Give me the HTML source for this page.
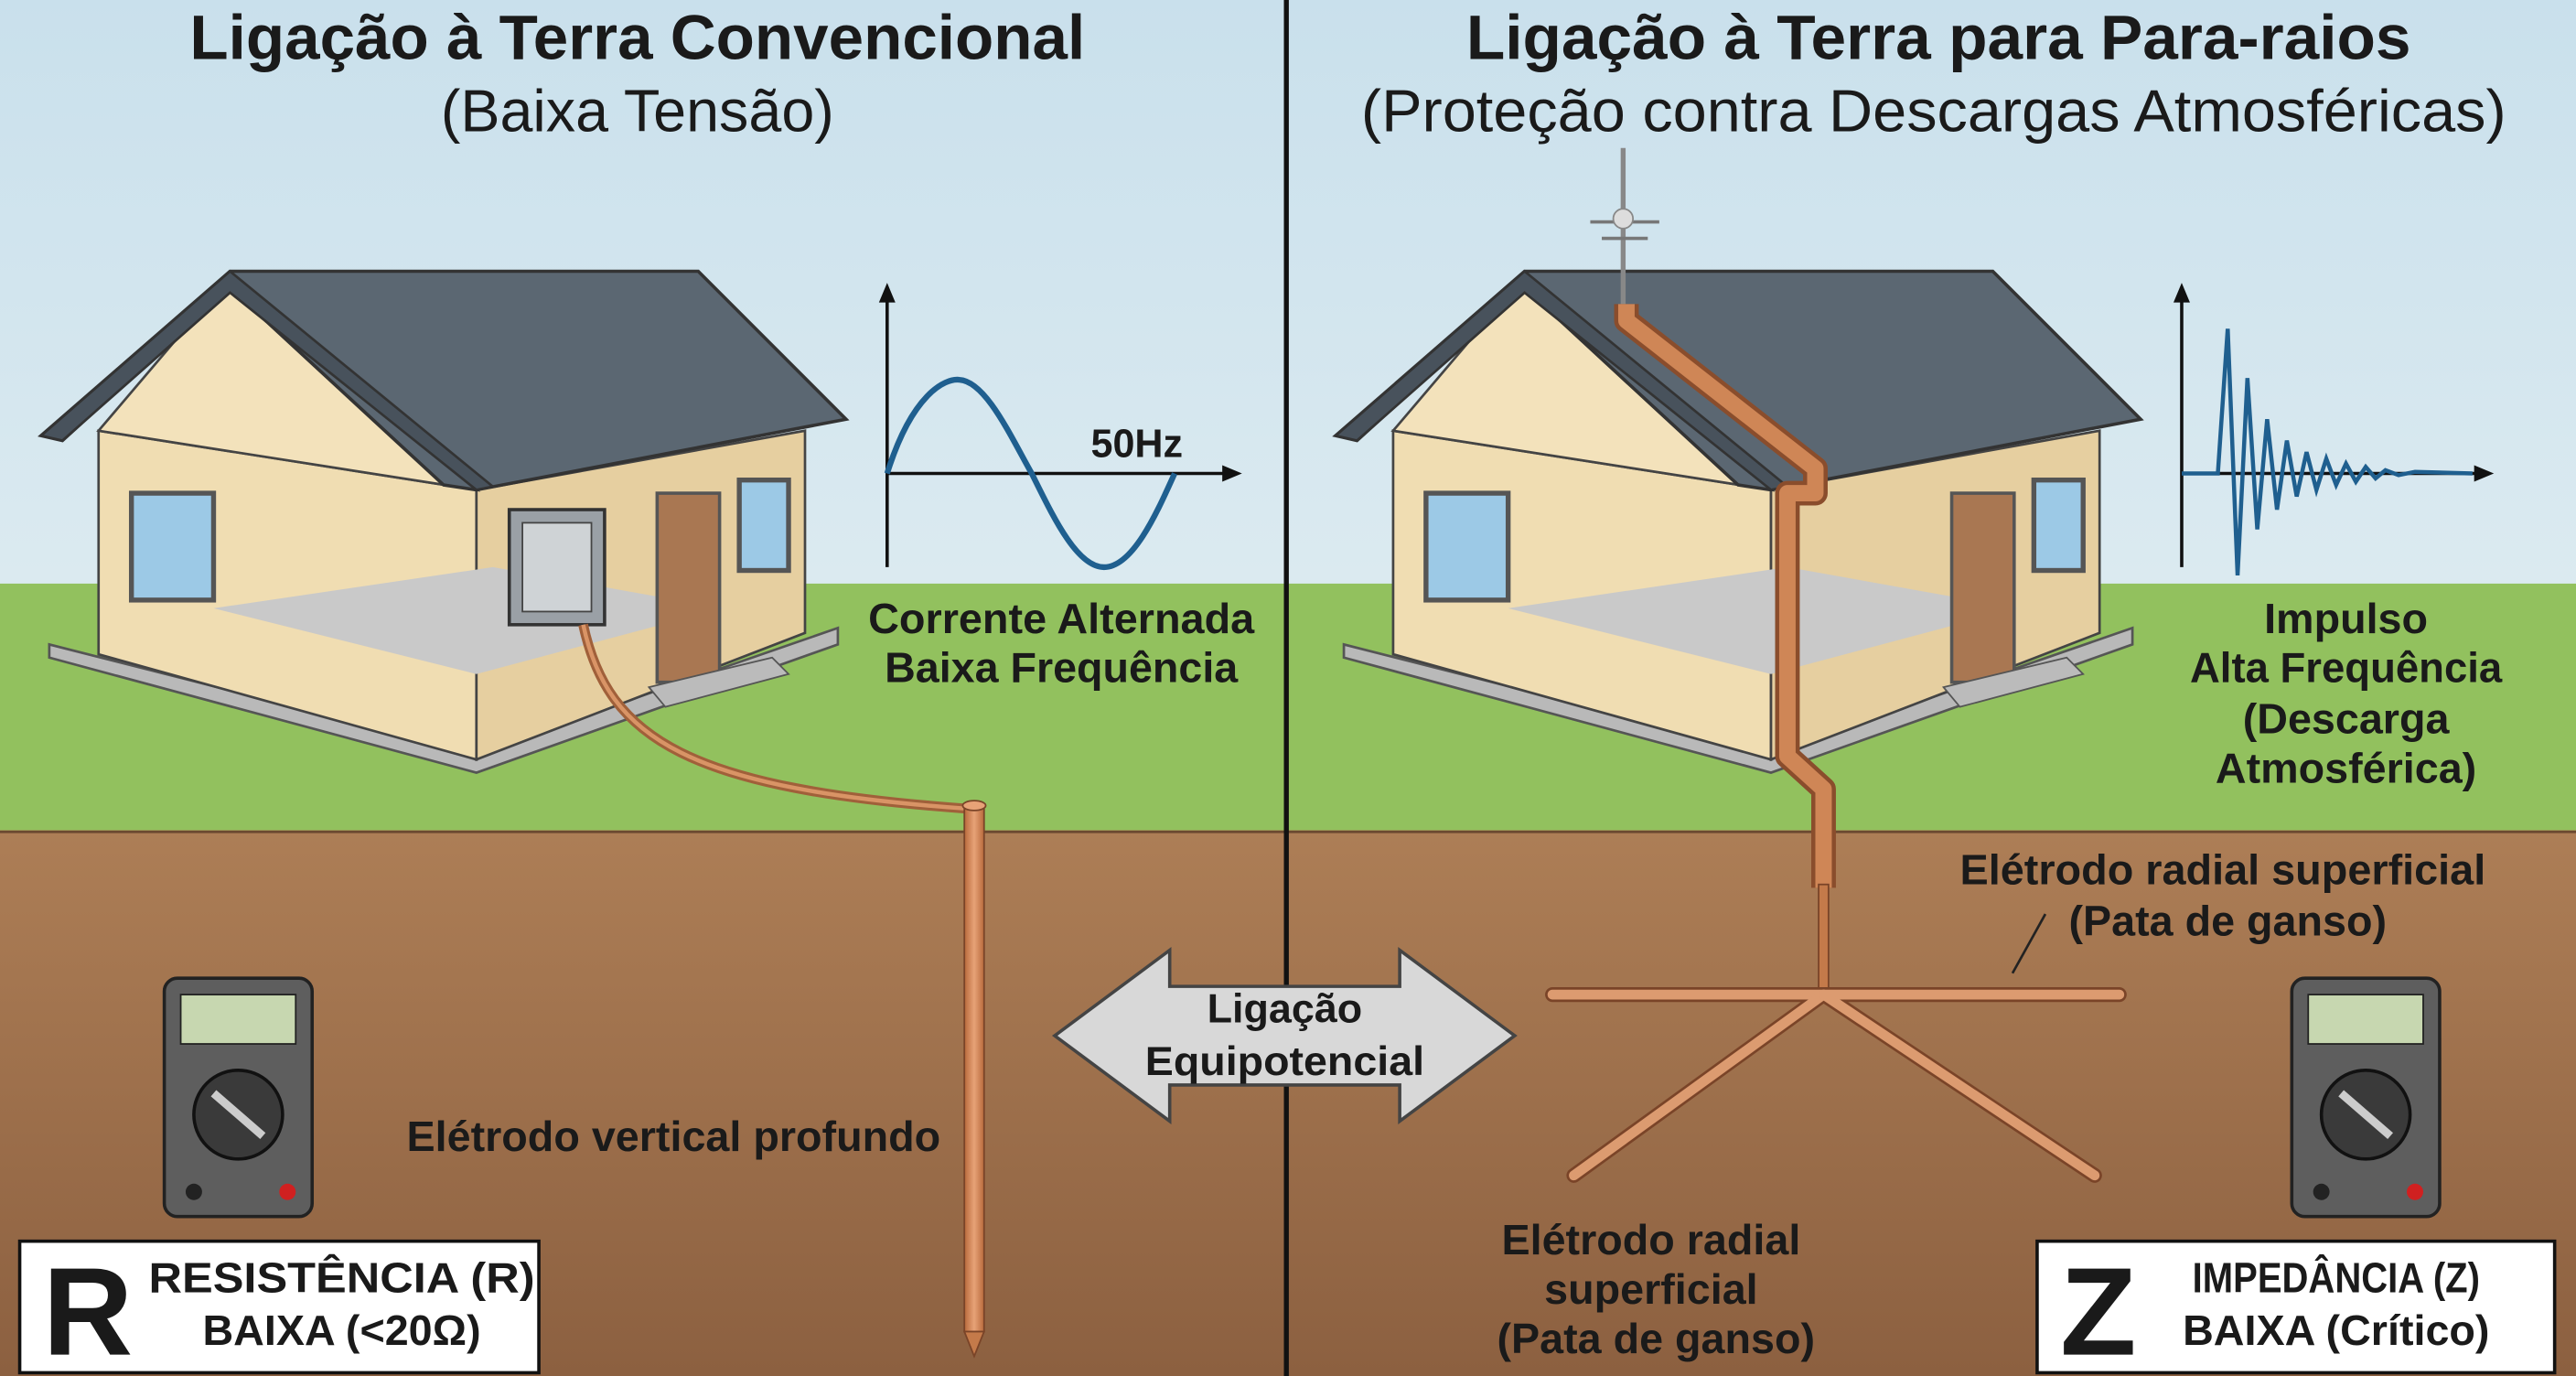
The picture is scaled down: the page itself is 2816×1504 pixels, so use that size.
<!DOCTYPE html>
<html><head><meta charset="utf-8"><style>
html,body{margin:0;padding:0;background:#fff}
svg{display:block}
text{font-family:"Liberation Sans",sans-serif;fill:#1a1a1a}
.b{font-weight:bold}
</style></head><body>
<svg width="2816" height="1504" viewBox="0 0 1568 837" preserveAspectRatio="none" xmlns="http://www.w3.org/2000/svg">
<defs>
<linearGradient id="sky" x1="0" y1="0" x2="0" y2="1"><stop offset="0" stop-color="#c9e0ec"/><stop offset="1" stop-color="#f4f8f6"/></linearGradient>
<linearGradient id="soil" x1="0" y1="0" x2="0" y2="1"><stop offset="0" stop-color="#ad7e56"/><stop offset="1" stop-color="#8c6040"/></linearGradient>
<linearGradient id="cu" x1="0" y1="0" x2="1" y2="0"><stop offset="0" stop-color="#b86a3c"/><stop offset=".5" stop-color="#e7a277"/><stop offset="1" stop-color="#b86a3c"/></linearGradient>
<g id="house">
  <polygon points="30,400 290,470 510,392 510,382 290,458 30,392" fill="#b9b9b9" stroke="#555" stroke-width="1.5"/>
  <polygon points="60,262 290,298 290,462 60,398" fill="#f0ddb2" stroke="#444" stroke-width="1.5"/>
  <polygon points="290,298 490,262 490,385 290,462" fill="#e6cfa0" stroke="#444" stroke-width="1.5"/>
  <polygon points="130,370 290,410 440,370 300,345" fill="#c9c9c9"/>
  <polygon points="140,168 60,262 290,298" fill="#f3e2bb" stroke="#444" stroke-width="1.5"/>
  <polygon points="140,165 425,165 515,255 290,298 270,295 140,175 38,268 25,265" fill="#5b6772" stroke="#333" stroke-width="2"/>
  <polygon points="140,165 25,265 38,268 140,178 290,298 300,296" fill="#48525c" stroke="#333" stroke-width="1.5"/>
  <rect x="80" y="300" width="50" height="65" fill="#9cc9e6" stroke="#555" stroke-width="3"/>
  <rect x="450" y="292" width="30" height="55" fill="#9cc9e6" stroke="#555" stroke-width="3"/>
  <rect x="400" y="300" width="38" height="115" fill="#a97752" stroke="#555" stroke-width="2"/>
  <polygon points="395,418 470,400 480,410 405,430" fill="#bbb" stroke="#555"/>
</g>
</defs>
<rect width="1568" height="837" fill="url(#sky)"/>
<rect y="355" width="1568" height="152" fill="#92c15e"/>
<rect y="505" width="1568" height="332" fill="url(#soil)"/>
<line x1="0" y1="506" x2="1568" y2="506" fill="none" stroke="#6b4a30" stroke-width="1.5"/>
<line x1="783" y1="0" x2="783" y2="837" stroke="#111" stroke-width="3"/>

<text x="388" y="36" font-size="38" text-anchor="middle" class="b" textLength="545" lengthAdjust="spacingAndGlyphs">Ligação à Terra Convencional</text>
<text x="388" y="80" font-size="36" text-anchor="middle">(Baixa Tensão)</text>
<text x="1180" y="36" font-size="38" text-anchor="middle" class="b" textLength="575" lengthAdjust="spacingAndGlyphs">Ligação à Terra para Para-raios</text>
<text x="1177" y="80" font-size="36" text-anchor="middle" textLength="697" lengthAdjust="spacingAndGlyphs">(Proteção contra Descargas Atmosféricas)</text>

<use href="#house"/>
<use href="#house" x="788"/>

<rect x="310" y="310" width="58" height="70" fill="#9aa0a6" stroke="#333" stroke-width="2"/>
<rect x="318" y="318" width="42" height="54" fill="#cfd3d6" stroke="#444"/>
<path d="M355,380 C370,450 420,480 590,492" fill="none" stroke="#a0603a" stroke-width="6"/>
<path d="M355,380 C370,450 420,480 590,492" fill="none" stroke="#d99466" stroke-width="2.5"/>
<rect x="587" y="490" width="12" height="320" fill="url(#cu)" stroke="#7a4428"/>
<polygon points="587,810 599,810 593,825" fill="#c47a4a" stroke="#7a4428"/>
<ellipse cx="593" cy="490" rx="7" ry="3" fill="#e7a277" stroke="#7a4428"/>

<line x1="540" y1="345" x2="540" y2="180" stroke="#111" stroke-width="2"/>
<polygon points="540,172 535,184 545,184" fill="#111"/>
<line x1="540" y1="288" x2="748" y2="288" stroke="#111" stroke-width="2"/>
<polygon points="756,288 744,283 744,293" fill="#111"/>
<path d="M540,288 C555,240 575,230 584,231 C600,232 615,265 628,288 C640,312 655,345 672,345 C690,345 705,310 715,288" fill="none" stroke="#1f5f8f" stroke-width="3.5"/>
<text x="664" y="278" font-size="24" class="b">50Hz</text>
<text x="646" y="385" font-size="26" text-anchor="middle" class="b" textLength="235" lengthAdjust="spacingAndGlyphs">Corrente Alternada</text>
<text x="646" y="415" font-size="26" text-anchor="middle" class="b" textLength="215" lengthAdjust="spacingAndGlyphs">Baixa Frequência</text>

<line x1="1328" y1="345" x2="1328" y2="180" stroke="#111" stroke-width="2"/>
<polygon points="1328,172 1323,184 1333,184" fill="#111"/>
<line x1="1328" y1="288" x2="1510" y2="288" stroke="#111" stroke-width="2"/>
<polygon points="1518,288 1506,283 1506,293" fill="#111"/>
<polyline points="1328,288 1350,288 1356,200 1362,350 1368,230 1374,322 1380,255 1386,310 1392,268 1398,302 1404,275 1410,298 1416,279 1422,295 1428,282 1434,293 1440,284 1446,291 1452,286 1460,289 1470,287 1505,288" fill="none" stroke="#1f5f8f" stroke-width="2.5"/>
<text x="1428" y="385" font-size="26" text-anchor="middle" class="b">Impulso</text>
<text x="1428" y="415" font-size="26" text-anchor="middle" class="b" textLength="190" lengthAdjust="spacingAndGlyphs">Alta Frequência</text>
<text x="1428" y="446" font-size="26" text-anchor="middle" class="b">(Descarga</text>
<text x="1428" y="476" font-size="26" text-anchor="middle" class="b">Atmosférica)</text>

<line x1="988" y1="90" x2="988" y2="185" stroke="#888" stroke-width="3"/>
<line x1="968" y1="135" x2="1010" y2="135" stroke="#777" stroke-width="2"/>
<line x1="975" y1="145" x2="1003" y2="145" stroke="#777" stroke-width="2"/>
<circle cx="988" cy="133" r="6" fill="#ddd" stroke="#888"/>
<path d="M990,185 L990,195 L1105,285 L1105,300 L1088,300 L1088,460 L1110,480 L1110,540" fill="none" stroke="#8a4d2c" stroke-width="15" stroke-linejoin="round"/>
<path d="M990,185 L990,195 L1105,285 L1105,300 L1088,300 L1088,460 L1110,480 L1110,540" fill="none" stroke="#cf8656" stroke-width="10" stroke-linejoin="round"/>
<rect x="1107" y="538" width="6" height="65" fill="#c47a4a" stroke="#7a4428"/>
<g stroke="#7a4428" stroke-width="9" stroke-linecap="round"><line x1="945" y1="605" x2="1290" y2="605"/><line x1="1110" y1="605" x2="958" y2="715"/><line x1="1110" y1="605" x2="1275" y2="715"/></g>
<g stroke="#dc9b70" stroke-width="6" stroke-linecap="round"><line x1="945" y1="605" x2="1290" y2="605"/><line x1="1110" y1="605" x2="958" y2="715"/><line x1="1110" y1="605" x2="1275" y2="715"/></g>
<line x1="1225" y1="592" x2="1245" y2="556" stroke="#222" stroke-width="1.5"/>
<text x="1353" y="538" font-size="26" text-anchor="middle" class="b" textLength="320" lengthAdjust="spacingAndGlyphs">Elétrodo radial superficial</text>
<text x="1356" y="569" font-size="26" text-anchor="middle" class="b">(Pata de ganso)</text>
<text x="1005" y="763" font-size="26" text-anchor="middle" class="b">Elétrodo radial</text>
<text x="1005" y="793" font-size="26" text-anchor="middle" class="b">superficial</text>
<text x="1008" y="823" font-size="26" text-anchor="middle" class="b">(Pata de ganso)</text>
<text x="410" y="700" font-size="26" text-anchor="middle" class="b" textLength="325" lengthAdjust="spacingAndGlyphs">Elétrodo vertical profundo</text>

<polygon points="642,630 712,578 712,600 852,600 852,578 922,630 852,682 852,660 712,660 712,682" fill="#d8d8d8" stroke="#444" stroke-width="2"/>
<text x="782" y="622" font-size="25" text-anchor="middle" class="b">Ligação</text>
<text x="782" y="654" font-size="25" text-anchor="middle" class="b" textLength="170" lengthAdjust="spacingAndGlyphs">Equipotencial</text>

<g id="mm">
<rect x="100" y="595" width="90" height="145" rx="8" fill="#5e5e5e" stroke="#222" stroke-width="2"/>
<rect x="110" y="605" width="70" height="30" fill="#c7d7b0" stroke="#222"/>
<circle cx="145" cy="678" r="27" fill="#3a3a3a" stroke="#111" stroke-width="2"/>
<line x1="130" y1="665" x2="160" y2="691" stroke="#ccc" stroke-width="5"/>
<circle cx="118" cy="725" r="5" fill="#222"/>
<circle cx="175" cy="725" r="5" fill="#d02020"/>
</g>
<use href="#mm" x="1295"/>

<rect x="12" y="755" width="316" height="80" fill="#fff" stroke="#111" stroke-width="2"/>
<text x="26" y="824" font-size="76" class="b">R</text>
<text x="208" y="786" font-size="26" text-anchor="middle" class="b" textLength="235" lengthAdjust="spacingAndGlyphs">RESISTÊNCIA (R)</text>
<text x="208" y="818" font-size="26" text-anchor="middle" class="b">BAIXA (&lt;20Ω)</text>
<rect x="1240" y="755" width="315" height="80" fill="#fff" stroke="#111" stroke-width="2"/>
<text x="1254" y="824" font-size="76" class="b">Z</text>
<text x="1422" y="786" font-size="26" text-anchor="middle" class="b" textLength="175" lengthAdjust="spacingAndGlyphs">IMPEDÂNCIA (Z)</text>
<text x="1422" y="818" font-size="26" text-anchor="middle" class="b">BAIXA (Crítico)</text>
</svg>
</body></html>
